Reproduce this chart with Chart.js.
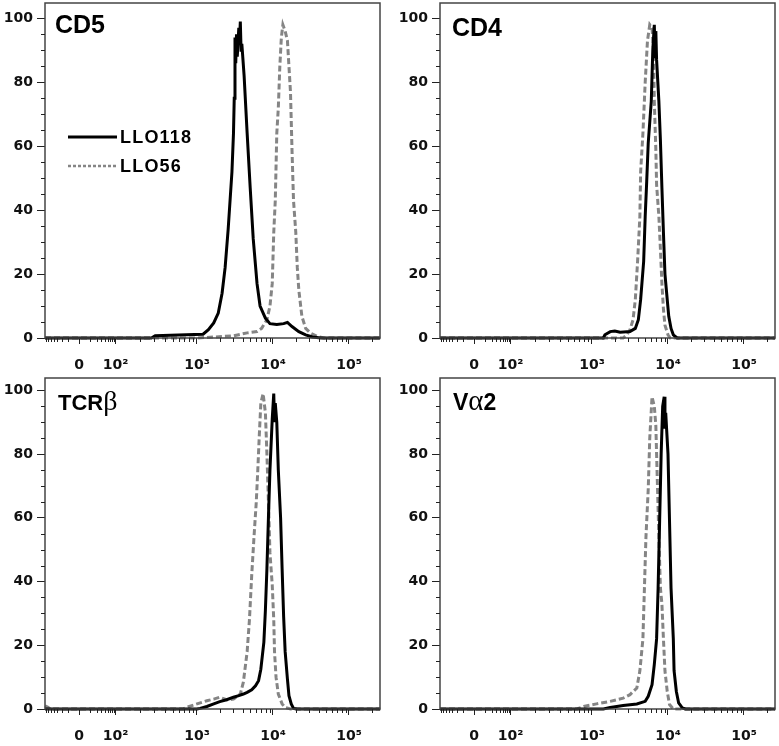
<!DOCTYPE html>
<html lang="en">
<head>
<meta charset="UTF-8">
<title>CD5, CD4, TCRβ and Vα2 histograms</title>
<script src="https://cdn.jsdelivr.net/npm/chart.js@4"></script>
<style>
  body { margin: 0; background: #fff; }
  #wrap { position: relative; width: 779px; height: 746px; }
  canvas { position: absolute; }
</style>
</head>
<body>
<div id="wrap">
  <canvas id="cd5" width="390" height="372" style="left:0;top:0"></canvas>
  <canvas id="cd4" width="389" height="372" style="left:390px;top:0"></canvas>
  <canvas id="tcrb" width="390" height="374" style="left:0;top:372px"></canvas>
  <canvas id="va2" width="389" height="374" style="left:390px;top:372px"></canvas>
</div>
<script>
// x is the position on the (biexponential) fluorescence axis in decades: 3 = 10^3
// y is % of max
const xTickPos = [1.45, 1.93, 3, 4, 5];
const xTickLabels = ['0', '10²', '10³', '10⁴', '10⁵'];
const yTicks = [0, 20, 40, 60, 80, 100];
const seriesNames = ['LLO118', 'LLO56'];

const cd5_LLO118 = [[1.0,0],[2.40,0],[2.45,0.7],[2.86,1],[3.08,1.2],[3.15,2.6],[3.22,4.7],[3.28,7.8],[3.33,14],[3.37,22],[3.41,34],[3.46,52],[3.48,64],[3.49,75],[3.50,94],[3.51,86],[3.52,95],[3.53,88],[3.55,97],[3.56,93],[3.57,99],[3.58,90],[3.59,92],[3.62,82],[3.66,64],[3.70,47],[3.74,31],[3.79,17],[3.83,10],[3.90,6.2],[3.96,4.5],[4.05,4.2],[4.14,4.5],[4.19,4.9],[4.25,3.6],[4.34,2],[4.43,1],[4.52,0.3],[4.63,0],[5.41,0]];
const cd5_LLO56 = [[1.0,0],[3.0,0],[3.22,0.3],[3.48,0.7],[3.66,1.6],[3.79,2],[3.85,3],[3.92,5.7],[3.96,10],[3.99,17],[4.01,33],[4.03,43],[4.05,64],[4.07,72],[4.09,85],[4.11,94],[4.13,98],[4.16,96],[4.19,93],[4.21,85],[4.23,77],[4.25,59],[4.27,43],[4.30,33],[4.32,22],[4.34,15],[4.38,6.8],[4.43,3],[4.49,1.6],[4.58,0.5],[4.67,0],[5.41,0]];

const cd4_LLO118 = [[1.0,0],[3.15,0],[3.17,1],[3.24,2],[3.30,2.2],[3.37,1.8],[3.50,2],[3.57,3],[3.61,5.7],[3.64,12],[3.68,24],[3.70,38],[3.72,49],[3.74,61],[3.78,74],[3.80,90],[3.82,98],[3.83,88],[3.84,96],[3.85,87],[3.88,74],[3.90,62],[3.92,47],[3.94,33],[3.96,20],[3.99,12],[4.01,6.8],[4.04,3],[4.07,1],[4.12,0],[5.41,0]];
const cd4_LLO56 = [[1.0,0],[3.41,0],[3.46,1],[3.50,2.6],[3.54,5.7],[3.57,12],[3.60,24],[3.63,38],[3.64,52],[3.67,64],[3.70,80],[3.73,93],[3.76,98],[3.79,97],[3.81,90],[3.82,74],[3.84,59],[3.85,48],[3.88,38],[3.90,28],[3.92,17],[3.94,9],[3.96,4],[4.00,1],[4.03,0],[5.41,0]];

const tcrb_LLO118 = [[1.0,0],[3.0,0],[3.04,0.2],[3.13,0.8],[3.22,1.6],[3.30,2.3],[3.39,2.9],[3.48,3.7],[3.55,4.2],[3.61,4.7],[3.66,5.2],[3.72,6],[3.77,7.3],[3.81,8.9],[3.84,12.5],[3.88,21],[3.90,31],[3.92,44],[3.94,60],[3.96,75],[3.99,91],[4.01,99],[4.02,90],[4.03,96],[4.05,90],[4.07,75],[4.10,60],[4.12,44],[4.14,29],[4.16,18],[4.19,9.4],[4.21,4.2],[4.24,1.6],[4.27,0.2],[4.32,0],[5.41,0]];
const tcrb_LLO56 = [[1.0,1],[1.04,0.5],[1.07,0],[2.82,0],[2.86,0.5],[3.0,1.6],[3.13,2.6],[3.22,3.1],[3.30,3.7],[3.39,2.9],[3.48,3.1],[3.57,4.7],[3.61,8.4],[3.66,18],[3.69,28],[3.72,42],[3.75,54],[3.78,65],[3.80,75],[3.82,86],[3.84,96],[3.87,99],[3.90,93],[3.92,80],[3.94,65],[3.96,49],[3.99,39],[4.01,28],[4.02,18],[4.04,10],[4.07,4.7],[4.12,1.6],[4.16,0.5],[4.23,0],[5.41,0]];

const va2_LLO118 = [[1.0,0],[3.15,0],[3.24,0.5],[3.41,1.1],[3.59,1.6],[3.70,2.4],[3.74,4],[3.79,7.6],[3.82,14],[3.85,22],[3.87,38],[3.89,59],[3.91,80],[3.93,95],[3.95,98],[3.96,88],[3.97,93],[4.00,80],[4.02,59],[4.04,38],[4.07,22],[4.08,12],[4.11,5.5],[4.14,1.9],[4.19,0.3],[4.23,0],[5.41,0]];
const va2_LLO56 = [[1.0,0],[2.80,0],[2.89,0.8],[3.06,1.6],[3.24,2.4],[3.41,3.4],[3.50,4.5],[3.59,6.6],[3.63,12],[3.67,22],[3.69,38],[3.71,54],[3.74,69],[3.76,85],[3.79,98],[3.82,95],[3.84,89],[3.85,80],[3.88,54],[3.90,38],[3.92,33],[3.94,22],[3.96,12],[3.99,5.5],[4.02,1.4],[4.07,0],[5.41,0]];

const xMin = 1.0, xMax = 5.408;

// minor ticks: log steps inside each decade, mirrored around the zero
const xMinor = [];
for (let k = 2; k <= 9; k++) {
  const f = Math.log10(k);
  const w0 = xTickPos[1] - xTickPos[0];
  xMinor.push(xTickPos[0] - f * w0, xTickPos[0] + f * w0);
  for (let i = 1; i < xTickPos.length - 1; i++) {
    xMinor.push(xTickPos[i] + f * (xTickPos[i + 1] - xTickPos[i]));
  }
  xMinor.push(5 + f);
}
const yMinor = [];
for (let v = 5; v < 100; v += 5) if (v % 20) yMinor.push(v);

const sans = '"Liberation Sans", Arial, sans-serif';
const serif = '"Liberation Serif", "Times New Roman", serif';
const tickFont = '"DejaVu Sans", sans-serif';

const panelDecor = {
  id: 'panelDecor',
  afterDatasetsDraw(chart, args, opts) {
    const { ctx, chartArea: a, scales: { x, y } } = chart;
    ctx.save();
    ctx.strokeStyle = '#444';
    ctx.lineWidth = 1.5;
    ctx.strokeRect(a.left, a.top, a.right - a.left, a.bottom - a.top);

    ctx.strokeStyle = '#222';
    ctx.lineWidth = 1;
    ctx.beginPath();
    yMinor.forEach(v => {
      const py = Math.round(y.getPixelForValue(v)) + 0.5;
      ctx.moveTo(a.left - 4, py);
      ctx.lineTo(a.left, py);
    });
    xMinor.filter(v => v > xMin && v < xMax).forEach(v => {
      const px = Math.round(x.getPixelForValue(v)) + 0.5;
      ctx.moveTo(px, a.bottom);
      ctx.lineTo(px, a.bottom + 4);
    });
    ctx.stroke();

    // panel name, greek letters in serif
    let tx = a.left + opts.titleDx;
    const ty = a.top + opts.titleDy;
    ctx.fillStyle = '#000';
    ctx.textBaseline = 'alphabetic';
    opts.title.forEach(part => {
      ctx.font = part.greek ? `${opts.titleSize + 6}px ${serif}` : `bold ${opts.titleSize}px ${sans}`;
      ctx.fillText(part.t, tx, ty);
      tx += ctx.measureText(part.t).width;
    });

    if (opts.legend) {
      const ds = chart.data.datasets;
      ctx.font = `bold 18px ${sans}`;
      ctx.letterSpacing = '1.2px';
      ctx.textBaseline = 'middle';
      [0, 1].forEach(i => {
        const ly = a.top + 134 + i * 29;
        ctx.beginPath();
        ctx.strokeStyle = ds[i].borderColor;
        ctx.lineWidth = i ? 2.5 : 3;
        ctx.setLineDash(i ? [3, 2] : []);
        ctx.moveTo(a.left + 23, ly);
        ctx.lineTo(a.left + 72, ly);
        ctx.stroke();
        ctx.setLineDash([]);
        ctx.fillStyle = '#000';
        ctx.fillText(ds[i].label, a.left + 75, ly + 1);
      });
    }
    ctx.restore();
  }
};

function makePanel(id, black, gray, p) {
  new Chart(document.getElementById(id), {
    type: 'line',
    data: {
      datasets: [
        { label: seriesNames[0], data: black, borderColor: '#000', borderWidth: 3,
          pointRadius: 0, tension: 0, clip: 4 },
        { label: seriesNames[1], data: gray, borderColor: '#858585', borderWidth: 3,
          borderDash: [6, 3], pointRadius: 0, tension: 0, clip: 4 }
      ]
    },
    options: {
      responsive: false,
      animation: false,
      layout: { padding: { top: p.padTop, right: p.padRight, left: 0, bottom: 0 } },
      plugins: {
        legend: { display: false },
        tooltip: { enabled: false },
        panelDecor: p.decor
      },
      scales: {
        x: {
          type: 'linear', min: xMin, max: xMax,
          afterBuildTicks: s => { s.ticks = xTickPos.map(v => ({ value: v })); },
          afterFit: s => { s.height = p.xAxisH; s.paddingLeft = 0; s.paddingRight = 0; },
          border: { display: false },
          grid: { drawOnChartArea: false, tickLength: 6, color: '#222' },
          ticks: { autoSkip: false, maxRotation: 0, padding: 13, color: '#111',
            font: { family: tickFont, size: 14, weight: 'bold' },
            callback: (v, i) => xTickLabels[i] }
        },
        y: {
          type: 'linear', min: 0, max: p.yMax,
          afterBuildTicks: s => { s.ticks = yTicks.map(v => ({ value: v })); },
          afterFit: s => { s.width = p.yAxisW; s.paddingTop = 0; s.paddingBottom = 0; },
          border: { display: false },
          grid: { drawOnChartArea: false, tickLength: 8, color: '#222' },
          ticks: { padding: 4, color: '#111',
            font: { family: tickFont, size: 14, weight: 'bold' } }
        }
      }
    },
    plugins: [panelDecor]
  });
}

makePanel('cd5', cd5_LLO118, cd5_LLO56, {
  padTop: 3, padRight: 10, yAxisW: 45, xAxisH: 34, yMax: 104.8,
  decor: { title: [{ t: 'CD5' }], titleSize: 25, titleDx: 10, titleDy: 30, legend: true }
});
makePanel('cd4', cd4_LLO118, cd4_LLO56, {
  padTop: 3, padRight: 4, yAxisW: 50, xAxisH: 34, yMax: 104.8,
  decor: { title: [{ t: 'CD4' }], titleSize: 25, titleDx: 12, titleDy: 33, legend: false }
});
makePanel('tcrb', tcrb_LLO118, tcrb_LLO56, {
  padTop: 6, padRight: 10, yAxisW: 45, xAxisH: 37, yMax: 103.9,
  decor: { title: [{ t: 'TCR' }, { t: 'β', greek: true }], titleSize: 22, titleDx: 13, titleDy: 32, legend: false }
});
makePanel('va2', va2_LLO118, va2_LLO56, {
  padTop: 6, padRight: 4, yAxisW: 50, xAxisH: 37, yMax: 103.9,
  decor: { title: [{ t: 'V' }, { t: 'α', greek: true }, { t: '2' }], titleSize: 23, titleDx: 13, titleDy: 32, legend: false }
});
</script>
</body>
</html>
